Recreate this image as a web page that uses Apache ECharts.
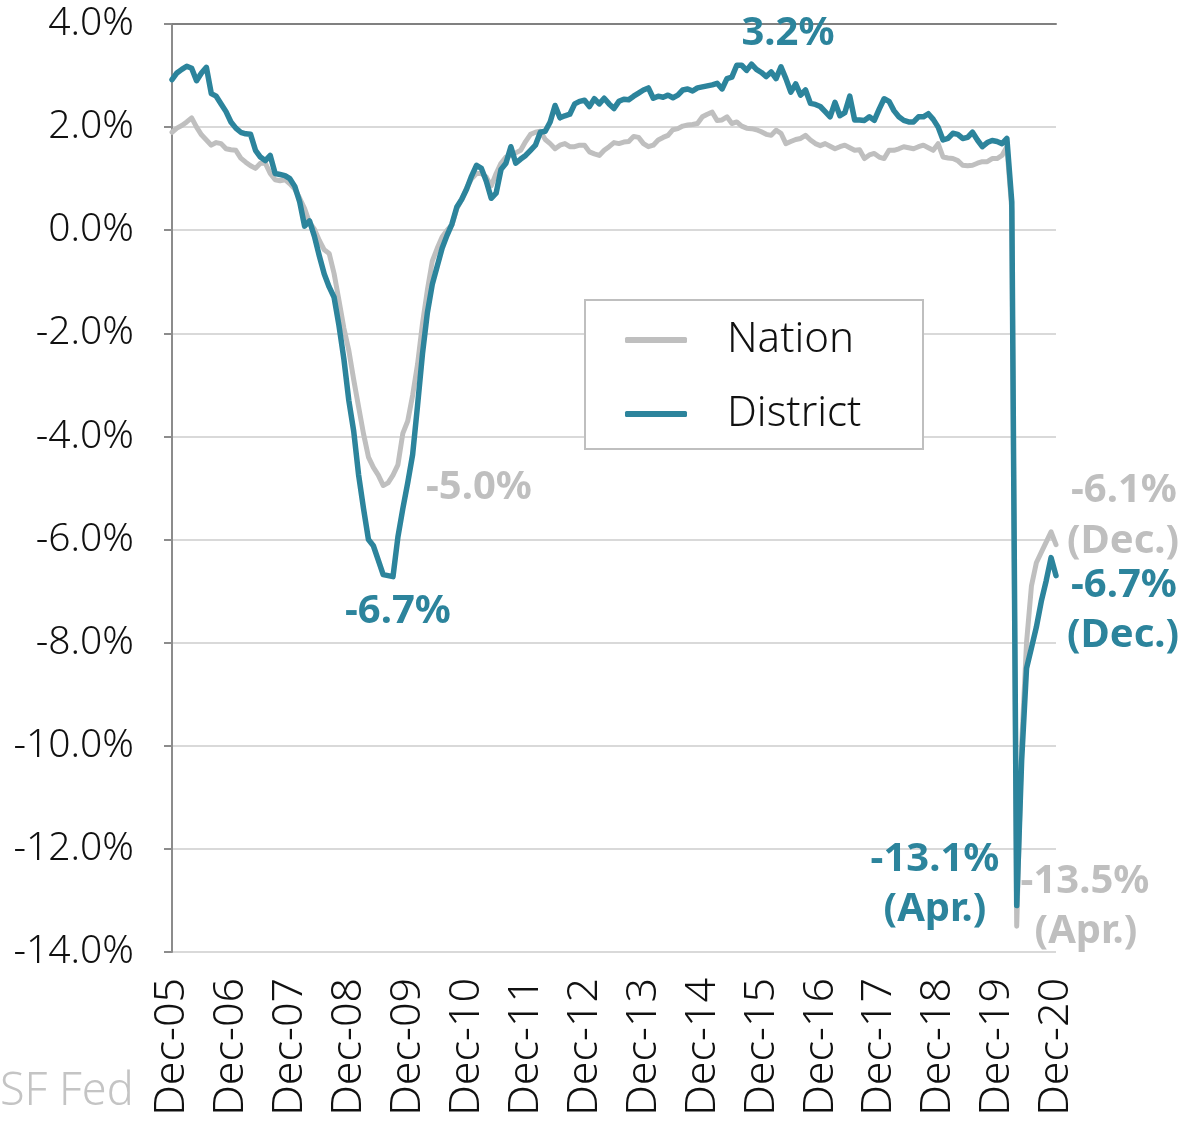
<!DOCTYPE html>
<html>
<head>
<meta charset="utf-8">
<script src="https://cdn.jsdelivr.net/npm/echarts@6/dist/echarts.min.js"></script>
<style>
  html, body { margin: 0; padding: 0; background: #fff; }
  #chart { width: 1183px; height: 1124px; }
</style>
</head>
<body>
<div id="chart"></div>
<script>
// monthly, Dec-05 .. Dec-20 (181 points), 12-month % change in payroll jobs
const yearLabels = ['05', '06', '07', '08', '09', '10', '11', '12', '13', '14', '15', '16', '17', '18', '19', '20']
const monthNames = ['Jan', 'Feb', 'Mar', 'Apr', 'May', 'Jun', 'Jul', 'Aug', 'Sep', 'Oct', 'Nov', 'Dec']

const districtValues = [
  2.92, 3.05, 3.12, 3.18, 3.14, 2.9, 3.05, 3.16, 2.65, 2.6, 2.45, 2.3,
  2.1, 1.98, 1.9, 1.87, 1.86, 1.55, 1.42, 1.35, 1.45, 1.1, 1.08, 1.06,
  1.0, 0.85, 0.55, 0.08, 0.18, -0.12, -0.5, -0.85, -1.1, -1.3, -1.85, -2.5,
  -3.3, -3.9, -4.75, -5.4, -6.0, -6.12, -6.4, -6.68, -6.7, -6.72, -5.95, -5.4,
  -4.9, -4.35, -3.4, -2.4, -1.6, -1.05, -0.7, -0.35, -0.1, 0.12, 0.45, 0.6,
  0.8, 1.05, 1.26, 1.2, 0.95, 0.62, 0.72, 1.18, 1.3, 1.62, 1.3, 1.38,
  1.45, 1.55, 1.65, 1.9, 1.92, 2.1, 2.42, 2.18, 2.22, 2.25, 2.45, 2.5,
  2.52, 2.4, 2.55, 2.45, 2.56, 2.45, 2.36, 2.5, 2.54, 2.53, 2.6, 2.66,
  2.72, 2.76, 2.56, 2.6, 2.58, 2.62, 2.57, 2.62, 2.72, 2.74, 2.7, 2.76,
  2.78, 2.8, 2.82, 2.85, 2.74, 2.94, 2.97, 3.2, 3.2, 3.1, 3.22, 3.12,
  3.06, 2.98, 3.07, 2.94, 3.17, 2.94, 2.68, 2.84, 2.62, 2.72, 2.46, 2.44,
  2.4, 2.3, 2.2, 2.48, 2.22, 2.28, 2.6, 2.14, 2.14, 2.13, 2.2, 2.13,
  2.35, 2.55, 2.5, 2.32, 2.2, 2.13, 2.1, 2.1, 2.2, 2.2, 2.26, 2.15,
  2.0, 1.75, 1.78, 1.88, 1.86, 1.78, 1.8, 1.9, 1.75, 1.62, 1.7, 1.74,
  1.72, 1.68, 1.78, 0.55, -13.1, -10.3, -8.5, -8.1, -7.7, -7.2, -6.8, -6.35,
  -6.7
]

const nationValues = [
  1.9, 1.98, 2.03, 2.1, 2.18, 2.0, 1.85, 1.75, 1.65, 1.7, 1.68, 1.58,
  1.56, 1.55, 1.4, 1.32, 1.25, 1.2, 1.3, 1.3, 1.1, 0.98, 0.96, 0.98,
  0.9, 0.8, 0.62, 0.42, 0.15, 0.02, -0.2, -0.38, -0.45, -0.84, -1.36, -1.9,
  -2.33, -2.9, -3.43, -3.95, -4.4, -4.6, -4.75, -4.95, -4.9, -4.75, -4.55, -3.94,
  -3.7, -3.2, -2.6, -1.81, -1.16, -0.6, -0.35, -0.13, 0.0, 0.1, 0.42, 0.6,
  0.82, 1.0, 1.1, 1.1, 1.03, 0.86, 1.1, 1.3, 1.42, 1.45, 1.5, 1.55,
  1.72, 1.86, 1.9, 1.92, 1.76, 1.68, 1.58, 1.65, 1.68, 1.62, 1.62, 1.65,
  1.65, 1.52, 1.48, 1.45, 1.55, 1.62, 1.7, 1.68, 1.71, 1.72, 1.82, 1.8,
  1.68, 1.62, 1.65, 1.75, 1.8, 1.84, 1.95, 1.97, 2.02, 2.04, 2.05, 2.07,
  2.2, 2.25, 2.29, 2.13, 2.14, 2.2, 2.07, 2.1, 2.02, 1.98, 1.97, 1.95,
  1.91, 1.86, 1.84, 1.94, 1.88, 1.68, 1.72, 1.76, 1.78, 1.84, 1.75, 1.68,
  1.64, 1.68, 1.63, 1.58, 1.62, 1.65, 1.6, 1.55, 1.56, 1.39, 1.46, 1.49,
  1.42, 1.39, 1.55, 1.55, 1.58, 1.62, 1.6, 1.58, 1.62, 1.65, 1.6, 1.55,
  1.68, 1.42, 1.4, 1.39, 1.35, 1.26, 1.25, 1.26, 1.3, 1.33, 1.33, 1.39,
  1.39, 1.45, 1.62, 0.4, -13.5, -10.0, -8.0, -6.9, -6.45, -6.25, -6.05, -5.85,
  -6.1
]

const yTicks = { min: -14, max: 4, interval: 2 }

// category labels: Dec-05, Jan-06, ... Dec-20
const categories = ['Dec-' + yearLabels[0]]
for (let y = 1; y < yearLabels.length; y++) {
  monthNames.forEach(m => categories.push(m + '-' + yearLabels[y]))
}

const COLOR_DISTRICT = '#2c849c'
const COLOR_NATION = '#bfbfbf'
const FONT = '"Noto Sans", "DejaVu Sans", sans-serif'
const BOLD = '"Noto Sans", "Open Sans", sans-serif'

function note(text, cx, cy, color) {
  return {
    type: 'text',
    x: cx,
    y: cy,
    z: 10,
    style: {
      text: text,
      fill: color,
      font: 'bold 40px ' + BOLD,
      textAlign: 'center',
      textVerticalAlign: 'middle'
    }
  }
}

const chart = echarts.init(document.getElementById('chart'))

chart.setOption({
  backgroundColor: '#fff',
  animation: false,
  grid: { left: 172, right: 127, top: 24, bottom: 172, containLabel: false },
  legend: {
    data: ['Nation', 'District'],
    orient: 'vertical',
    left: 620,
    top: 314,
    icon: 'roundRect',
    itemWidth: 62,
    itemHeight: 6,
    itemGap: 32,
    z: 12,
    textStyle: {
      fontSize: 42,
      lineHeight: 40,
      fontFamily: FONT,
      fontWeight: 300,
      color: '#111',
      padding: [0, 0, 0, 35]
    }
  },
  xAxis: [
    {
      type: 'category',
      data: categories,
      boundaryGap: false,
      axisLine: { show: false },
      axisTick: { show: false },
      splitLine: { show: false },
      axisLabel: {
        interval: (idx) => idx % 12 === 0,
        rotate: 90,
        margin: 26,
        fontSize: 43,
        fontFamily: FONT,
        fontWeight: 300,
        color: '#111',
        padding: [10, 0, 0, 0]
      }
    },
    {
      // zero line
      type: 'category',
      data: categories,
      boundaryGap: false,
      position: 'top',
      axisLine: { show: true, onZero: true, lineStyle: { color: '#808080', width: 2 } },
      axisTick: { show: false },
      axisLabel: { show: false },
      splitLine: { show: false }
    }
  ],
  yAxis: {
    type: 'value',
    min: yTicks.min,
    max: yTicks.max,
    interval: yTicks.interval,
    axisLine: { show: true, lineStyle: { color: '#8c8c8c', width: 2 } },
    axisTick: { show: true, length: 8, lineStyle: { color: '#8c8c8c', width: 2 } },
    splitLine: { show: true, lineStyle: { color: '#d9d9d9', width: 2 } },
    axisLabel: {
      formatter: (v) => v.toFixed(1) + '%',
      margin: 38,
      fontSize: 39,
      fontFamily: FONT,
      fontWeight: 300,
      color: '#111'
    }
  },
  series: [
    {
      name: 'Nation',
      type: 'line',
      data: nationValues,
      symbol: 'none',
      lineStyle: { color: COLOR_NATION, width: 5, cap: 'round', join: 'round' },
      itemStyle: { color: COLOR_NATION }
    },
    {
      name: 'District',
      type: 'line',
      data: districtValues,
      symbol: 'none',
      lineStyle: { color: COLOR_DISTRICT, width: 5.5, cap: 'round', join: 'round' },
      itemStyle: { color: COLOR_DISTRICT }
    }
  ],
  graphic: [
    {
      type: 'rect',
      z: 11,
      shape: { x: 585, y: 300, width: 338, height: 149 },
      style: { fill: '#fff', stroke: '#bfbfbf', lineWidth: 2 }
    },
    note('3.2%', 788, 34, COLOR_DISTRICT),
    note('-5.0%', 479, 488, COLOR_NATION),
    note('-6.7%', 398, 612, COLOR_DISTRICT),
    note('-6.1%', 1124, 491, COLOR_NATION),
    note('(Dec.)', 1123, 542, COLOR_NATION),
    note('-6.7%', 1124, 586, COLOR_DISTRICT),
    note('(Dec.)', 1123, 636, COLOR_DISTRICT),
    note('-13.1%', 935, 860, COLOR_DISTRICT),
    note('(Apr.)', 935, 910, COLOR_DISTRICT),
    note('-13.5%', 1085, 882, COLOR_NATION),
    note('(Apr.)', 1086, 932, COLOR_NATION),
    {
      type: 'text',
      x: 0,
      y: 1092,
      style: {
        text: 'SF Fed',
        fill: '#c4c4c4',
        font: '300 45px ' + FONT,
        textAlign: 'left',
        textVerticalAlign: 'middle'
      }
    }
  ]
})
</script>
</body>
</html>
